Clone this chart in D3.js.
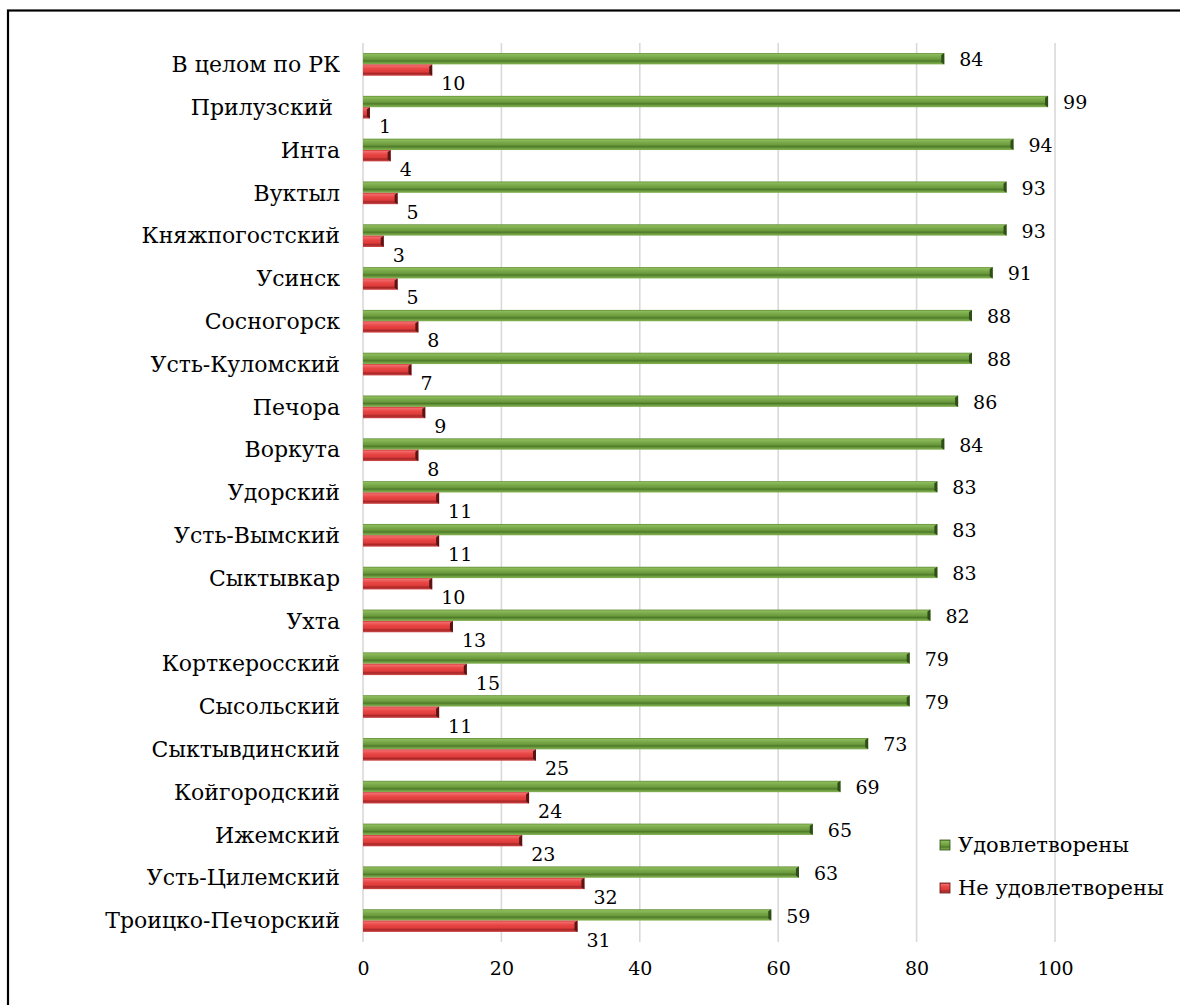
<!DOCTYPE html>
<html>
<head>
<meta charset="utf-8">
<script src="https://cdn.jsdelivr.net/npm/d3@7"></script>
<style>
  html, body { margin: 0; padding: 0; background: #fff; }
  svg text { font-family: "DejaVu Serif"; fill: #000; }
</style>
</head>
<body>
<svg id="chart" width="1180" height="1005"></svg>
<script>
const categories = ["В целом по РК", "Прилузский ", "Инта", "Вуктыл", "Княжпогостский", "Усинск", "Сосногорск",
  "Усть-Куломский", "Печора", "Воркута", "Удорский", "Усть-Вымский", "Сыктывкар", "Ухта", "Корткеросский",
  "Сысольский", "Сыктывдинский", "Койгородский", "Ижемский", "Усть-Цилемский", "Троицко-Печорский"];
const satisfied    = [84, 99, 94, 93, 93, 91, 88, 88, 86, 84, 83, 83, 83, 82, 79, 79, 73, 69, 65, 63, 59];
const notSatisfied = [10, 1, 4, 5, 3, 5, 8, 7, 9, 8, 11, 11, 10, 13, 15, 11, 25, 24, 23, 32, 31];
const seriesNames = ["Удовлетворены", "Не удовлетворены"];
const xTicks = [0, 20, 40, 60, 80, 100];

const FONT = "'DejaVu Serif'";
const svg = d3.select("#chart");
const defs = svg.append("defs");

function grad(id, stops) {
  const g = defs.append("linearGradient").attr("id", id).attr("x1", 0).attr("y1", 0).attr("x2", 0).attr("y2", 1);
  stops.forEach(([o, c]) => g.append("stop").attr("offset", o).attr("stop-color", c));
}
grad("gGreen", [[0, "#5e8a33"], [0.12, "#8cbb5a"], [0.35, "#79a84a"], [0.55, "#6a9a3c"], [0.7, "#4f7a2a"], [0.85, "#6e9e40"], [1, "#86b456"]]);
grad("gRed", [[0, "#c83030"], [0.12, "#f26a6a"], [0.4, "#e84444"], [0.65, "#de3c3c"], [0.8, "#a82626"], [1, "#d04a4a"]]);

// frame
svg.append("rect").attr("x", 8).attr("y", 10.5).attr("width", 1190).attr("height", 1010)
  .attr("fill", "none").attr("stroke", "#000").attr("stroke-width", 2.2);

const x = d3.scaleLinear().domain([0, 100]).range([363, 1055]);
const y = d3.scaleBand().domain(categories).range([43, 942]).paddingInner(0.47).paddingOuter(0.235);
const yIn = d3.scaleBand().domain([0, 1]).range([0, y.bandwidth()]);

// gridlines
svg.append("g").selectAll("line").data(xTicks).join("line")
  .attr("x1", d => x(d)).attr("x2", d => x(d)).attr("y1", 43).attr("y2", 942)
  .attr("stroke", "#d9d9d9").attr("stroke-width", 1.6);

// x axis labels
const xAxis = d3.axisBottom(x).tickValues(xTicks).tickSize(0).tickPadding(0);
const gx = svg.append("g").attr("transform", "translate(0,961)").call(xAxis);
gx.select(".domain").remove();
gx.selectAll("text").attr("font-size", 19).attr("fill", "#000").style("font-family", FONT);

// y axis labels
const yAxis = d3.axisLeft(y).tickSize(0).tickPadding(0);
const gy = svg.append("g").attr("transform", "translate(340,0)").call(yAxis);
gy.select(".domain").remove();
gy.selectAll("text").attr("font-size", 22).attr("fill", "#000")
  .attr("dy", "0.35em").style("white-space", "pre").style("font-family", FONT);

const data = categories.map((c, i) => ({ c, v: [satisfied[i], notSatisfied[i]] }));
const groups = svg.append("g").selectAll("g").data(data).join("g")
  .attr("transform", d => `translate(0,${y(d.c)})`);

const fills = ["url(#gGreen)", "url(#gRed)"];
const caps = ["#2f4d18", "#5a1414"];

[0, 1].forEach(s => {
  groups.append("rect")
    .attr("x", x(0)).attr("y", yIn(s))
    .attr("width", d => x(d.v[s]) - x(0)).attr("height", yIn.bandwidth())
    .attr("fill", fills[s]);
  groups.append("path")
    .attr("d", d => {
      const xe = x(d.v[s]), y0 = yIn(s), h = yIn.bandwidth();
      const w = Math.min(3, x(d.v[s]) - x(0));
      return `M${xe},${y0} L${xe},${y0 + h} L${xe - w},${y0 + h - 2} L${xe - w},${y0 + 2} Z`;
    })
    .attr("fill", caps[s]);
});

// value labels
groups.append("text")
  .attr("x", d => x(d.v[0]) + 15)
  .attr("y", yIn(0) + yIn.bandwidth() / 2 + 1)
  .attr("dy", "0.35em")
  .attr("font-size", 19).style("font-family", FONT)
  .text(d => d.v[0]);
groups.append("text")
  .attr("x", d => x(d.v[1]) + 9)
  .attr("y", yIn(1) + yIn.bandwidth() + 8)
  .attr("dy", "0.35em")
  .attr("font-size", 19).style("font-family", FONT)
  .text(d => d.v[1]);

// legend
const legend = svg.append("g").attr("transform", "translate(940,0)");
const legY = [845, 888];
seriesNames.forEach((n, i) => {
  legend.append("rect").attr("x", 0).attr("y", legY[i] - 5).attr("width", 10).attr("height", 10)
    .attr("fill", fills[i]).attr("stroke", caps[i]).attr("stroke-width", 0.8);
  legend.append("text").attr("x", 18).attr("y", legY[i]).attr("dy", "0.35em")
    .attr("font-size", 21).style("font-family", FONT).text(n);
});
</script>
</body>
</html>
